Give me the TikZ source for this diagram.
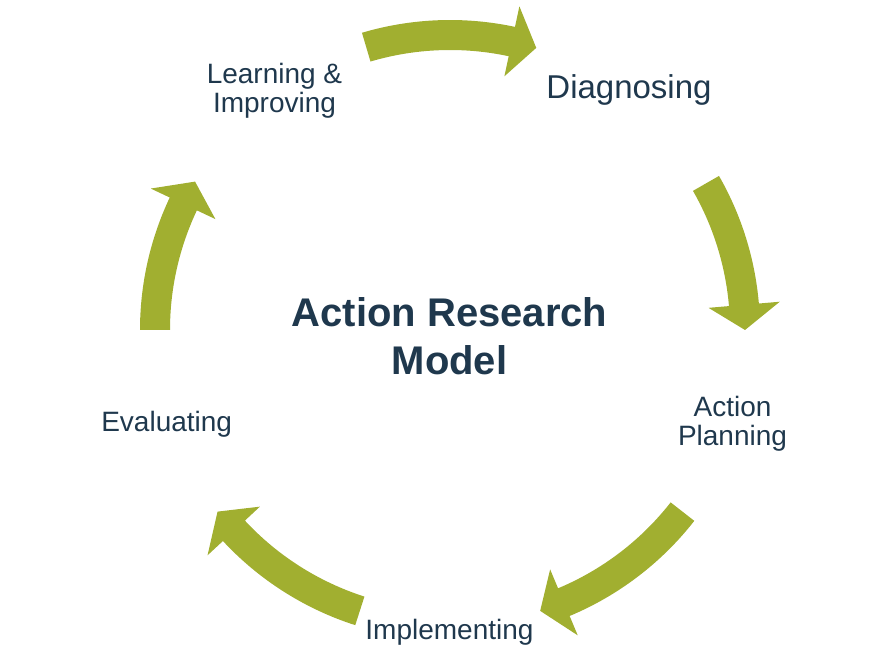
\documentclass[tikz,border=0pt]{standalone}
\usepackage{fontspec}
\setmainfont{Liberation Sans}
\usepackage{tikz}
\usetikzlibrary{shapes, backgrounds}
\definecolor{olivearrow}{RGB}{161,175,48}
\definecolor{navytext}{RGB}{31,56,77}
\newcommand{\cyclearrow}[2]{%
\fill[olivearrow] (#1:310) arc[start angle=#1, end angle=#2, radius=310]
  -- (#2:331) -- ({#2-4.9}:295) -- (#2:259.5) -- (#2:280)
  arc[start angle=#2, end angle=#1, radius=280] -- cycle;}

\begin{document}
\begin{tikzpicture}[x=1pt,y=1pt,
  label/.style={text=navytext,inner sep=0pt,align=center,font=\fontsize{28}{29}\selectfont}]

\useasboundingbox (0,0) rectangle (877,664);

\coordinate (hub) at (450,334);

\begin{scope}[shift={(hub)}]

\cyclearrow{106.5}{77.9}
\cyclearrow{29.8}{4.9}
\cyclearrow{-38}{-67.3}
\cyclearrow{-107.8}{-137.1}
\cyclearrow{180}{154.7}

\end{scope}

\node[label,font=\fontsize{33}{36}\selectfont] (diag) at (629,573.6) {Diagnosing};
\node[label] (plan) at (732.5,240.4) {Action\\Planning};
\node[label] (impl) at (449.5,31.3) {Implementing};
\node[label] (eval) at (166.7,239.6) {Evaluating};
\node[label] (learn) at (274.5,573) {Learning \&\\Improving};

\node[label,font=\fontsize{40}{48.3}\selectfont\bfseries] (title) at (449.5,327.8) {Action Research\\Model};

\end{tikzpicture}
\end{document}
